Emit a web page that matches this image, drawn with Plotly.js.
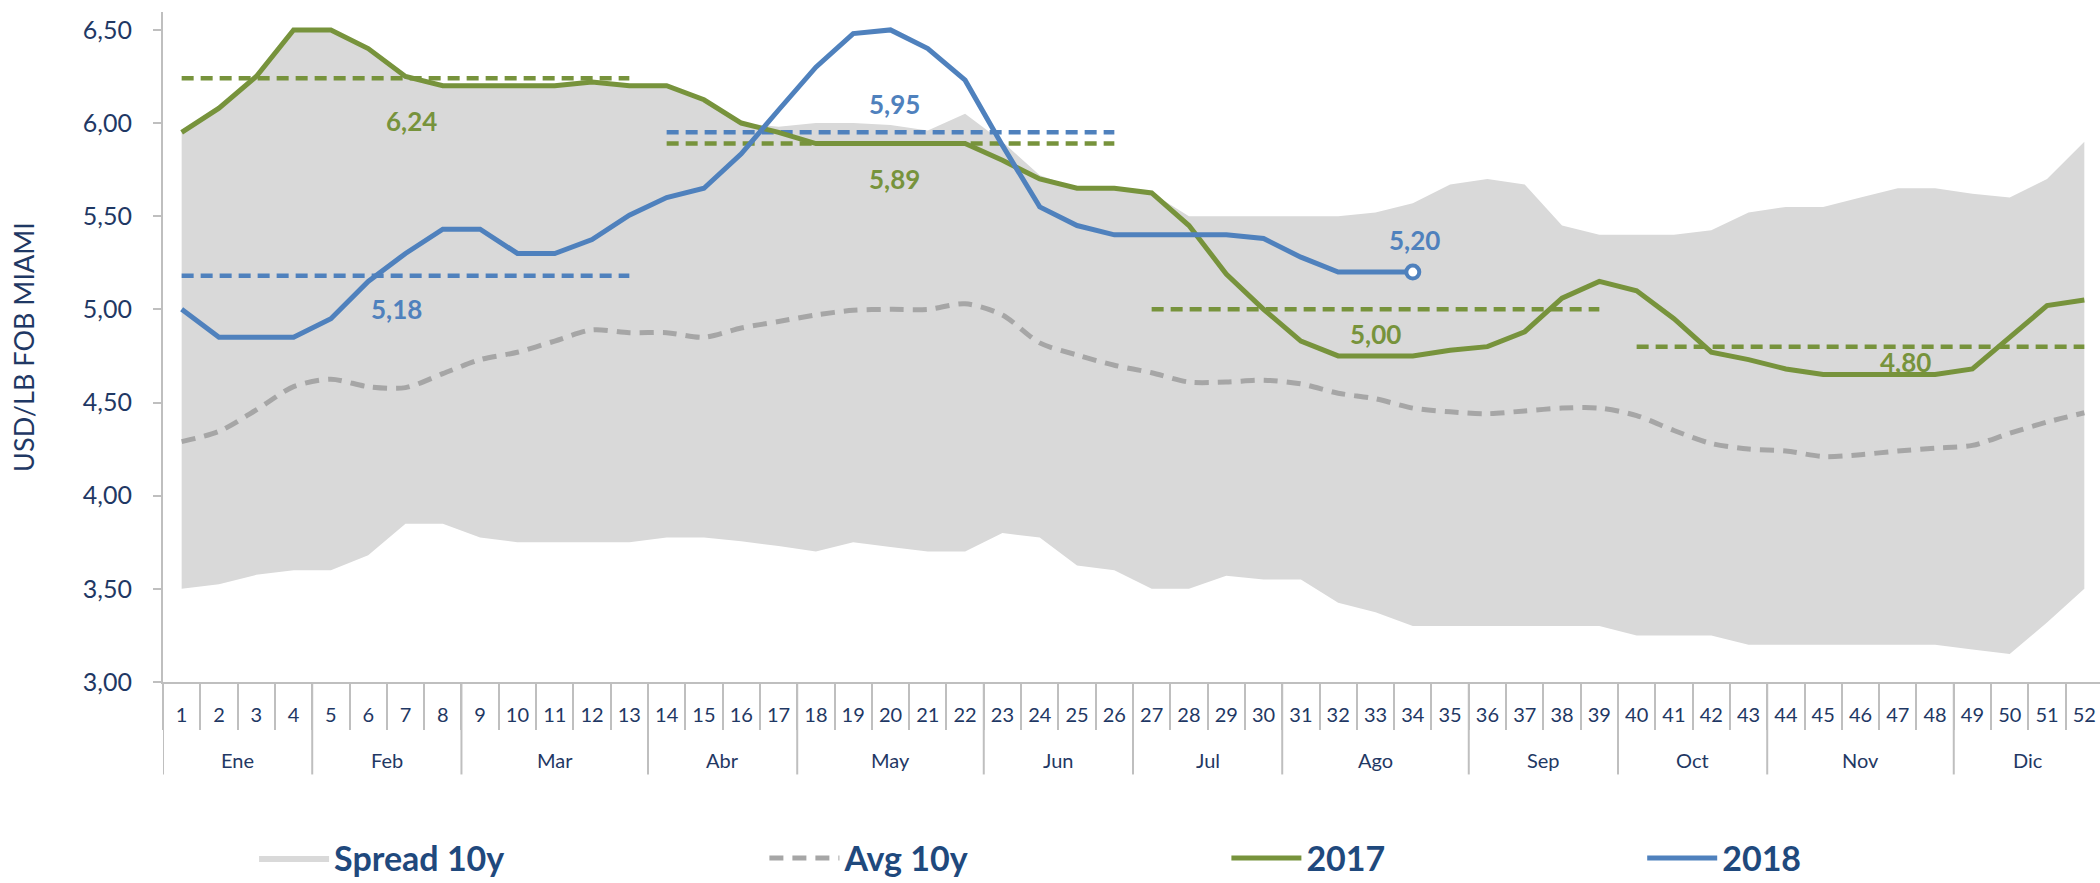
<!DOCTYPE html>
<html>
<head>
<meta charset="utf-8">
<script src="https://cdn.plot.ly/plotly-3.0.1.min.js"></script>
<style>
  html, body { margin: 0; padding: 0; background: #ffffff; }
  #chart { width: 2100px; height: 883px; }
</style>
</head>
<body>
<div id="chart"></div>
<script>
// ---------------- DATA ----------------
const weeks = [1,2,3,4,5,6,7,8,9,10,11,12,13,14,15,16,17,18,19,20,21,22,23,24,25,26,
               27,28,29,30,31,32,33,34,35,36,37,38,39,40,41,42,43,44,45,46,47,48,49,50,51,52];
const months = ['Ene','Feb','Mar','Abr','May','Jun','Jul','Ago','Sep','Oct','Nov','Dic'];
const weeksPerMonth = [4,4,5,4,5,4,4,5,4,4,5,4];

const spreadLow = [3.50,3.525,3.575,3.60,3.60,3.68,3.85,3.85,3.775,3.75,3.75,3.75,3.75,3.775,3.775,3.755,3.73,3.70,3.75,3.725,
                   3.70,3.70,3.80,3.775,3.625,3.60,3.50,3.50,3.57,3.55,3.55,3.425,3.375,3.30,3.30,3.30,3.30,3.30,3.30,3.25,
                   3.25,3.25,3.20,3.20,3.20,3.20,3.20,3.20,3.175,3.15,3.32,3.50];
const spreadHigh = [5.95,6.08,6.25,6.50,6.50,6.40,6.25,6.20,6.20,6.20,6.20,6.22,6.20,6.20,6.125,6.00,5.98,6.00,6.00,5.99,
                    5.96,6.05,5.90,5.72,5.65,5.65,5.625,5.50,5.50,5.50,5.50,5.50,5.52,5.57,5.67,5.70,5.67,5.45,5.40,5.40,
                    5.40,5.425,5.52,5.55,5.55,5.60,5.65,5.65,5.62,5.60,5.70,5.90];
const avg10y = [4.29,4.345,4.46,4.585,4.625,4.585,4.58,4.655,4.73,4.77,4.83,4.89,4.875,4.875,4.85,4.90,4.935,4.97,4.995,5.00,
                5.00,5.03,4.97,4.82,4.755,4.70,4.66,4.61,4.61,4.62,4.60,4.55,4.52,4.47,4.45,4.44,4.455,4.47,4.47,4.43,
                4.35,4.28,4.25,4.24,4.21,4.22,4.24,4.255,4.27,4.335,4.395,4.445];
const y2017 = [5.95,6.08,6.25,6.50,6.50,6.40,6.25,6.20,6.20,6.20,6.20,6.22,6.20,6.20,6.125,6.00,5.95,5.89,5.89,5.89,
               5.89,5.89,5.80,5.70,5.65,5.65,5.625,5.45,5.19,5.00,4.83,4.75,4.75,4.75,4.78,4.80,4.88,5.06,5.15,5.10,
               4.95,4.77,4.73,4.68,4.65,4.65,4.65,4.65,4.68,4.85,5.02,5.05];
const y2018 = [5.00,4.85,4.85,4.85,4.95,5.15,5.30,5.43,5.43,5.30,5.30,5.375,5.505,5.60,5.65,5.835,6.07,6.30,6.48,6.50,
               6.40,6.23,5.88,5.55,5.45,5.40,5.40,5.40,5.40,5.38,5.28,5.20,5.20,5.20];
// quarterly averages (first week, last week)
const quarters = [[1,13],[14,26],[27,39],[40,52]];
const means2017 = [6.24, 5.89, 5.00, 4.80];
const means2018 = [5.18, 5.95];
const yTicks = [3.0,3.5,4.0,4.5,5.0,5.5,6.0,6.5];

// ---------------- STYLE ----------------
const NAVY = '#1F3864';
const GREEN = '#77933C';
const BLUE = '#4F81BD';
const GREYLINE = '#A6A6A6';
const FILL = '#D9D9D9';
const AXIS = '#BFBFBF';
const FONT = 'Lato, "Open Sans", sans-serif';
const fmt = v => v.toFixed(2).replace('.', ',');

// label placement for the average annotations (offset from segment start in weeks, offset in value units)
const label2017 = [[6.15, -0.23], [6.1, -0.19], [6.0, -0.13], [7.2, -0.08]];
const label2018 = [[5.75, -0.18], [6.1, 0.15]];

const traces = [];
traces.push({x: weeks, y: spreadLow, type: 'scatter', mode: 'lines',
  line: {width: 0, color: 'rgba(0,0,0,0)'}, showlegend: false, hoverinfo: 'skip'});
traces.push({x: weeks, y: spreadHigh, type: 'scatter', mode: 'lines', name: 'Spread 10y',
  fill: 'tonexty', fillcolor: FILL, line: {width: 0, color: FILL}, legend: 'legend'});
traces.push({x: weeks, y: avg10y, type: 'scatter', mode: 'lines', name: 'Avg 10y',
  line: {color: GREYLINE, width: 5, dash: '14px,9px', shape: 'spline', smoothing: 0.8}, legend: 'legend2'});

quarters.forEach((q, i) => {
  if (i < means2017.length) {
    traces.push({x: [q[0], q[1]], y: [means2017[i], means2017[i]], type: 'scatter', mode: 'lines',
      line: {color: GREEN, width: 4.5, dash: '12px,7px'}, showlegend: false, hoverinfo: 'skip'});
  }
  if (i < means2018.length) {
    traces.push({x: [q[0], q[1]], y: [means2018[i], means2018[i]], type: 'scatter', mode: 'lines',
      line: {color: BLUE, width: 4.5, dash: '12px,7px'}, showlegend: false, hoverinfo: 'skip'});
  }
});

traces.push({x: weeks, y: y2017, type: 'scatter', mode: 'lines', name: '2017',
  line: {color: GREEN, width: 5}, legend: 'legend3'});
traces.push({x: weeks.slice(0, y2018.length), y: y2018, type: 'scatter', mode: 'lines', name: '2018',
  line: {color: BLUE, width: 5}, legend: 'legend4'});
const last = y2018.length - 1;
traces.push({x: [weeks[last]], y: [y2018[last]], type: 'scatter', mode: 'markers', showlegend: false,
  marker: {size: 13, color: '#FFFFFF', line: {color: BLUE, width: 4}}, hoverinfo: 'skip'});

// ---------------- ANNOTATIONS & SHAPES ----------------
const annotations = [];
quarters.forEach((q, i) => {
  if (i < means2017.length) {
    annotations.push({x: q[0] + label2017[i][0], y: means2017[i] + label2017[i][1], xref: 'x', yref: 'y',
      text: '<b>' + fmt(means2017[i]) + '</b>', showarrow: false, font: {family: FONT, size: 26, color: GREEN}});
  }
  if (i < means2018.length) {
    annotations.push({x: q[0] + label2018[i][0], y: means2018[i] + label2018[i][1], xref: 'x', yref: 'y',
      text: '<b>' + fmt(means2018[i]) + '</b>', showarrow: false, font: {family: FONT, size: 26, color: BLUE}});
  }
});
annotations.push({x: weeks[last] + 0.05, y: y2018[last] + 0.17, xref: 'x', yref: 'y',
  text: '<b>' + fmt(y2018[last]) + '</b>', showarrow: false, font: {family: FONT, size: 26, color: BLUE}});

const shapes = [];
let cum = 0;
const bounds = [0.5];
months.forEach((m, i) => {
  const start = cum + 0.5;
  cum += weeksPerMonth[i];
  const end = cum + 0.5;
  bounds.push(end);
  annotations.push({x: (start + end) / 2, y: -0.116, xref: 'x', yref: 'paper', text: m, showarrow: false,
    font: {family: FONT, size: 20, color: NAVY}, yanchor: 'middle'});
});
bounds.forEach(b => {
  shapes.push({type: 'line', xref: 'x', yref: 'paper', x0: b, x1: b, y0: 0, y1: -0.138,
    line: {color: AXIS, width: 2}});
});
const minorVals = weeks.map(w => w - 0.5).concat([weeks[weeks.length - 1] + 0.5]);

const legendBase = {orientation: 'h', xref: 'container', yref: 'container', yanchor: 'middle', xanchor: 'left',
  font: {family: FONT, size: 34, color: '#1F497D', weight: 'bold'}, bgcolor: 'rgba(0,0,0,0)', itemwidth: 70};

const LY = 0.028;
const layout = {
  width: 2100, height: 883,
  margin: {l: 163, r: 0, t: 12, b: 201, pad: 0},
  paper_bgcolor: '#FFFFFF', plot_bgcolor: '#FFFFFF',
  separators: ',.',
  showlegend: true,
  xaxis: {
    range: [0.5, 52.42], tickmode: 'array', tickvals: weeks, ticktext: weeks.map(String),
    ticks: '', showline: true, linecolor: AXIS, linewidth: 2, showgrid: false, zeroline: false,
    tickfont: {family: FONT, size: 20, color: NAVY}, ticklabelstandoff: 14,
    minor: {tickvals: minorVals, ticks: 'outside', ticklen: 46, tickcolor: AXIS, tickwidth: 2, showgrid: false},
    fixedrange: true
  },
  yaxis: {
    range: [3, 6.596], tickmode: 'array', tickvals: yTicks, tickformat: '.2f',
    ticks: 'outside', ticklen: 8, tickcolor: AXIS, tickwidth: 2,
    showline: true, linecolor: AXIS, linewidth: 2, showgrid: false, zeroline: false,
    tickfont: {family: FONT, size: 25, color: NAVY}, ticklabelstandoff: 16,
    title: {text: 'USD/LB FOB MIAMI', font: {family: FONT, size: 27, color: NAVY}, standoff: 40},
    fixedrange: true
  },
  legend: Object.assign({}, legendBase, {x: 0.121, y: LY}),
  legend2: Object.assign({}, legendBase, {x: 0.364, y: LY}),
  legend3: Object.assign({}, legendBase, {x: 0.584, y: LY}),
  legend4: Object.assign({}, legendBase, {x: 0.782, y: LY}),
  annotations: annotations,
  shapes: shapes
};

Plotly.newPlot('chart', traces, layout, {displayModeBar: false, staticPlot: true});
</script>
</body>
</html>
